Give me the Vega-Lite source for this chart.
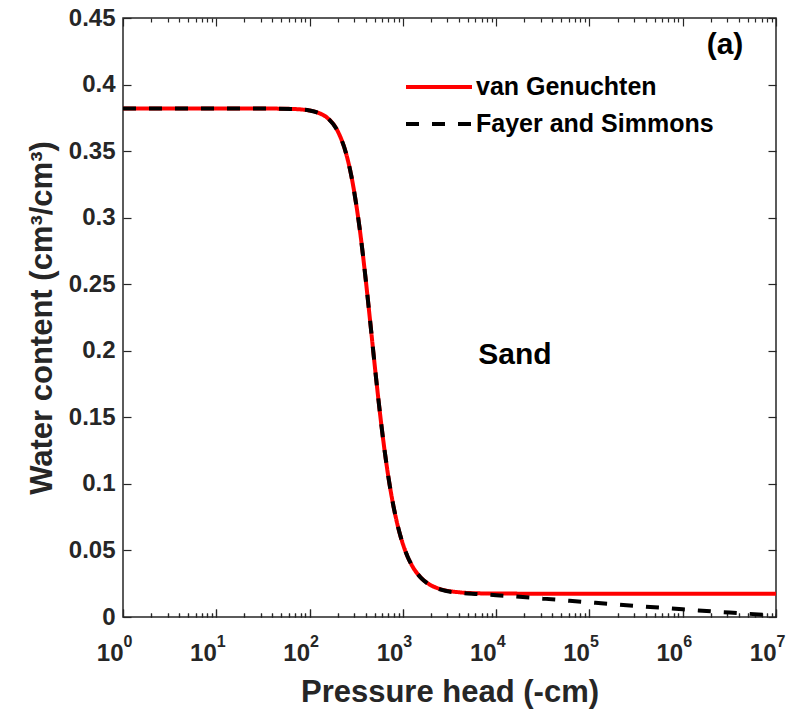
{
  "$schema": "https://vega.github.io/schema/vega-lite/v6.json",
  "width": 653,
  "height": 599,
  "autosize": {"type": "none"},
  "padding": {"left": 123, "top": 18, "right": 19, "bottom": 92},
  "background": "white",
  "config": {
    "view": {"stroke": "#262626", "strokeWidth": 1.5},
    "font": "Liberation Sans",
    "axis": {
      "domain": false,
      "grid": false,
      "tickColor": "#262626",
      "tickWidth": 1.2,
      "labelFont": "Liberation Sans",
      "labelFontWeight": "bold",
      "labelFontSize": 24,
      "labelColor": "#262626",
      "titleFont": "Liberation Sans",
      "titleFontWeight": "bold",
      "titleFontSize": 31,
      "titleColor": "#262626"
    }
  },
  "datasets": {
    "curves": [
      {"h": 1, "theta": 0.382, "model": "van Genuchten"},
      {"h": 10, "theta": 0.382, "model": "van Genuchten"},
      {"h": 31.6, "theta": 0.382, "model": "van Genuchten"},
      {"h": 63.1, "theta": 0.3817, "model": "van Genuchten"},
      {"h": 100, "theta": 0.3805, "model": "van Genuchten"},
      {"h": 125.9, "theta": 0.3786, "model": "van Genuchten"},
      {"h": 158.5, "theta": 0.3744, "model": "van Genuchten"},
      {"h": 199.5, "theta": 0.3652, "model": "van Genuchten"},
      {"h": 251.2, "theta": 0.346, "model": "van Genuchten"},
      {"h": 281.8, "theta": 0.3306, "model": "van Genuchten"},
      {"h": 316.2, "theta": 0.31, "model": "van Genuchten"},
      {"h": 354.8, "theta": 0.2848, "model": "van Genuchten"},
      {"h": 398.1, "theta": 0.2547, "model": "van Genuchten"},
      {"h": 446.7, "theta": 0.2218, "model": "van Genuchten"},
      {"h": 501.2, "theta": 0.188, "model": "van Genuchten"},
      {"h": 562.3, "theta": 0.156, "model": "van Genuchten"},
      {"h": 631, "theta": 0.1273, "model": "van Genuchten"},
      {"h": 707.9, "theta": 0.1029, "model": "van Genuchten"},
      {"h": 794.3, "theta": 0.083, "model": "van Genuchten"},
      {"h": 891.3, "theta": 0.0672, "model": "van Genuchten"},
      {"h": 1000, "theta": 0.0549, "model": "van Genuchten"},
      {"h": 1122, "theta": 0.0455, "model": "van Genuchten"},
      {"h": 1259, "theta": 0.0384, "model": "van Genuchten"},
      {"h": 1585, "theta": 0.0291, "model": "van Genuchten"},
      {"h": 1995, "theta": 0.0239, "model": "van Genuchten"},
      {"h": 2512, "theta": 0.021, "model": "van Genuchten"},
      {"h": 3981, "theta": 0.0186, "model": "van Genuchten"},
      {"h": 6310, "theta": 0.0178, "model": "van Genuchten"},
      {"h": 10000, "theta": 0.0176, "model": "van Genuchten"},
      {"h": 100000, "theta": 0.0175, "model": "van Genuchten"},
      {"h": 1000000, "theta": 0.0175, "model": "van Genuchten"},
      {"h": 10000000, "theta": 0.0175, "model": "van Genuchten"},
      {"h": 1, "theta": 0.382, "model": "Fayer and Simmons"},
      {"h": 10, "theta": 0.382, "model": "Fayer and Simmons"},
      {"h": 31.6, "theta": 0.382, "model": "Fayer and Simmons"},
      {"h": 63.1, "theta": 0.3817, "model": "Fayer and Simmons"},
      {"h": 100, "theta": 0.3805, "model": "Fayer and Simmons"},
      {"h": 125.9, "theta": 0.3786, "model": "Fayer and Simmons"},
      {"h": 158.5, "theta": 0.3744, "model": "Fayer and Simmons"},
      {"h": 199.5, "theta": 0.3652, "model": "Fayer and Simmons"},
      {"h": 251.2, "theta": 0.346, "model": "Fayer and Simmons"},
      {"h": 281.8, "theta": 0.3306, "model": "Fayer and Simmons"},
      {"h": 316.2, "theta": 0.31, "model": "Fayer and Simmons"},
      {"h": 354.8, "theta": 0.2848, "model": "Fayer and Simmons"},
      {"h": 398.1, "theta": 0.2547, "model": "Fayer and Simmons"},
      {"h": 446.7, "theta": 0.2218, "model": "Fayer and Simmons"},
      {"h": 501.2, "theta": 0.188, "model": "Fayer and Simmons"},
      {"h": 562.3, "theta": 0.156, "model": "Fayer and Simmons"},
      {"h": 631, "theta": 0.1273, "model": "Fayer and Simmons"},
      {"h": 707.9, "theta": 0.1029, "model": "Fayer and Simmons"},
      {"h": 794.3, "theta": 0.083, "model": "Fayer and Simmons"},
      {"h": 891.3, "theta": 0.0672, "model": "Fayer and Simmons"},
      {"h": 1000, "theta": 0.0549, "model": "Fayer and Simmons"},
      {"h": 1122, "theta": 0.0455, "model": "Fayer and Simmons"},
      {"h": 1259, "theta": 0.0384, "model": "Fayer and Simmons"},
      {"h": 1585, "theta": 0.029, "model": "Fayer and Simmons"},
      {"h": 1995, "theta": 0.0237, "model": "Fayer and Simmons"},
      {"h": 2512, "theta": 0.0207, "model": "Fayer and Simmons"},
      {"h": 3981, "theta": 0.0182, "model": "Fayer and Simmons"},
      {"h": 6310, "theta": 0.0172, "model": "Fayer and Simmons"},
      {"h": 10000, "theta": 0.0164, "model": "Fayer and Simmons"},
      {"h": 31623, "theta": 0.0138, "model": "Fayer and Simmons"},
      {"h": 100000, "theta": 0.011, "model": "Fayer and Simmons"},
      {"h": 316228, "theta": 0.0083, "model": "Fayer and Simmons"},
      {"h": 1000000, "theta": 0.0058, "model": "Fayer and Simmons"},
      {"h": 3162278, "theta": 0.0033, "model": "Fayer and Simmons"},
      {"h": 10000000, "theta": 0.0012, "model": "Fayer and Simmons"}
    ],
    "notes": [
      {"h": 15900, "theta": 0.197, "label": "Sand"}
    ],
    "panel": [
      {"h": 2840000, "theta": 0.4297, "label": "(a)"}
    ]
  },
  "layer": [
    {
      "data": {"name": "curves"},
      "mark": {"type": "line", "strokeWidth": 4, "interpolate": "monotone", "clip": true},
      "encoding": {
        "x": {
          "field": "h", "type": "quantitative",
          "scale": {"type": "log", "domain": [1, 10000000], "nice": false},
          "axis": {
            "orient": "bottom",
            "title": "Pressure head (-cm)",
            "titlePadding": 8,
            "values": [1,2,3,4,5,6,7,8,9,10,20,30,40,50,60,70,80,90,100,200,300,400,500,600,700,800,900,1000,2000,3000,4000,5000,6000,7000,8000,9000,10000,20000,30000,40000,50000,60000,70000,80000,90000,100000,200000,300000,400000,500000,600000,700000,800000,900000,1000000,2000000,3000000,4000000,5000000,6000000,7000000,8000000,9000000,10000000],
            "labelExpr": "abs(log(datum.value)/LN10 - round(log(datum.value)/LN10)) < 0.001 ? '10' : ''",
            "labelOverlap": false,
            "labelFlush": false,
            "labelAlign": "right",
            "labelDx": 5,
            "labelPadding": 32,
            "tickSize": {"condition": {"test": "abs(log(datum.value)/LN10 - round(log(datum.value)/LN10)) < 0.001", "value": -8}, "value": -4}
          }
        },
        "y": {
          "field": "theta", "type": "quantitative",
          "scale": {"domain": [0, 0.45], "nice": false, "zero": false},
          "axis": {
            "orient": "left",
            "title": "Water content (cm³/cm³)",
            "titlePadding": 10,
            "values": [0, 0.05, 0.1, 0.15, 0.2, 0.25, 0.3, 0.35, 0.4, 0.45],
            "format": ".2~f",
            "labelPadding": 16,
            "tickSize": -8
          }
        },
        "color": {
          "field": "model", "type": "nominal",
          "scale": {"domain": ["van Genuchten", "Fayer and Simmons"], "range": ["#ff0000", "#000000"]},
          "legend": {
            "orient": "none",
            "legendX": 303,
            "legendY": 56,
            "title": null,
            "symbolType": "M-3,0H3",
            "symbolSize": 484,
            "symbolStrokeWidth": 4,
            "labelFont": "Liberation Sans",
            "labelFontWeight": "bold",
            "labelFontSize": 25,
            "labelColor": "#000000",
            "labelOffset": 24,
            "rowPadding": 11,
            "labelLimit": 400
          }
        },
        "strokeDash": {
          "field": "model", "type": "nominal",
          "scale": {"domain": ["van Genuchten", "Fayer and Simmons"], "range": [[1, 0], [13, 13]]},
          "legend": null
        }
      }
    },
    {
      "data": {"name": "notes"},
      "mark": {"type": "text", "font": "Liberation Sans", "fontWeight": "bold", "fontSize": 30, "color": "#000000", "align": "center", "baseline": "middle"},
      "encoding": {
        "x": {
          "field": "h", "type": "quantitative",
          "scale": {"type": "log", "domain": [1, 10000000], "nice": false},
          "axis": {
            "orient": "top",
            "title": null,
            "labels": false,
            "values": [1,2,3,4,5,6,7,8,9,10,20,30,40,50,60,70,80,90,100,200,300,400,500,600,700,800,900,1000,2000,3000,4000,5000,6000,7000,8000,9000,10000,20000,30000,40000,50000,60000,70000,80000,90000,100000,200000,300000,400000,500000,600000,700000,800000,900000,1000000,2000000,3000000,4000000,5000000,6000000,7000000,8000000,9000000,10000000],
            "tickSize": {"condition": {"test": "abs(log(datum.value)/LN10 - round(log(datum.value)/LN10)) < 0.001", "value": -8}, "value": -4}
          }
        },
        "y": {
          "field": "theta", "type": "quantitative",
          "scale": {"domain": [0, 0.45], "nice": false, "zero": false},
          "axis": {
            "orient": "right",
            "title": null,
            "labels": false,
            "values": [0, 0.05, 0.1, 0.15, 0.2, 0.25, 0.3, 0.35, 0.4, 0.45],
            "tickSize": -8
          }
        },
        "text": {"field": "label", "type": "nominal"}
      }
    },
    {
      "data": {"name": "panel"},
      "mark": {"type": "text", "font": "Liberation Sans", "fontWeight": "bold", "fontSize": 30, "color": "#000000", "align": "center", "baseline": "middle"},
      "encoding": {
        "x": {
          "field": "h", "type": "quantitative",
          "scale": {"type": "log", "domain": [1, 10000000], "nice": false},
          "axis": {
            "orient": "bottom",
            "title": null,
            "values": [1,2,3,4,5,6,7,8,9,10,20,30,40,50,60,70,80,90,100,200,300,400,500,600,700,800,900,1000,2000,3000,4000,5000,6000,7000,8000,9000,10000,20000,30000,40000,50000,60000,70000,80000,90000,100000,200000,300000,400000,500000,600000,700000,800000,900000,1000000,2000000,3000000,4000000,5000000,6000000,7000000,8000000,9000000,10000000],
            "labelExpr": "abs(log(datum.value)/LN10 - round(log(datum.value)/LN10)) < 0.001 ? '' + round(log(datum.value)/LN10) : ''",
            "labelOverlap": false,
            "labelFlush": false,
            "labelAlign": "left",
            "labelDx": 10,
            "labelFontSize": 16,
            "labelPadding": 24,
            "tickSize": {"condition": {"test": "abs(log(datum.value)/LN10 - round(log(datum.value)/LN10)) < 0.001", "value": -8}, "value": -4}
          }
        },
        "y": {"field": "theta", "type": "quantitative", "scale": {"domain": [0, 0.45], "nice": false, "zero": false}, "axis": null},
        "text": {"field": "label", "type": "nominal"}
      }
    }
  ],
  "resolve": {"axis": {"x": "independent", "y": "independent"}}
}
